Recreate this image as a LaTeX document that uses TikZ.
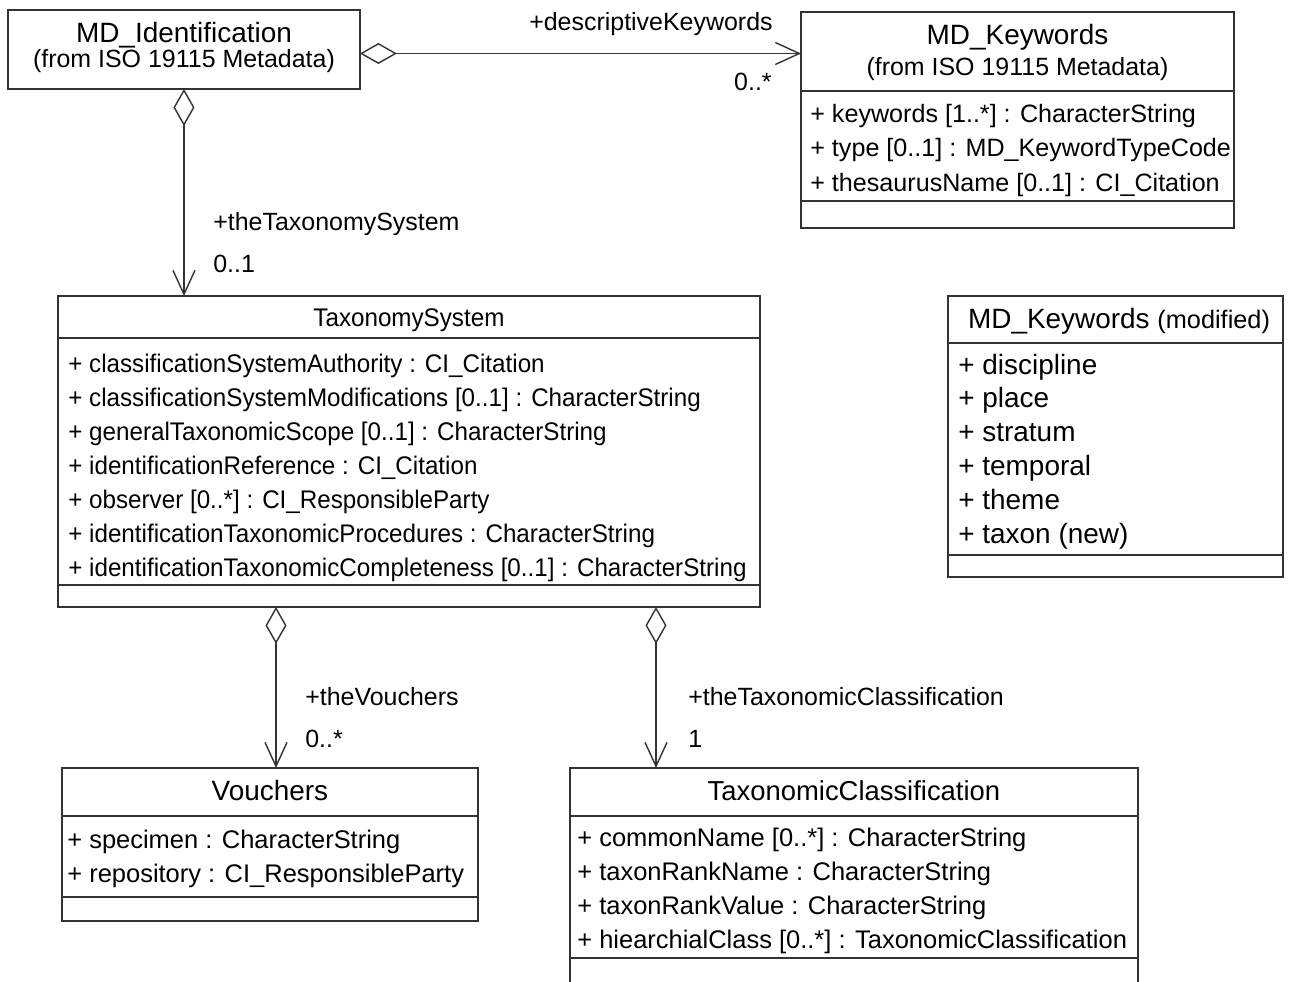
\documentclass[tikz,border=0pt]{standalone}
\usepackage{fontspec}
\setmainfont{Liberation Sans}
\newfontfamily\narrowsans[FakeStretch=0.95]{Liberation Sans}
\usetikzlibrary{arrows.meta}

\tikzset{
  umlbox/.style={draw=black!80, line width=0.9pt, anchor=north west, inner sep=0pt, outer sep=0pt},
  part/.style={draw=black!80, line width=0.9pt},
  ctitle/.style={font=\fontsize{15.9}{19}\selectfont, anchor=base, inner sep=0pt},
  csub/.style={font=\fontsize{14.2}{17}\selectfont, anchor=base, inner sep=0pt},
  attr/.style={font=\fontsize{14.5}{17}\selectfont, anchor=base west, inner sep=0pt},
  role/.style={font=\fontsize{14.2}{17}\selectfont, inner sep=0pt},
  agg/.style={draw=black!80, line width=0.8pt,
    arrows={Diamond[open,length=0.74cm,width=0.42cm]-Straight Barb[length=0.48cm,width=0.44cm]}}
}

\begin{document}
\begin{tikzpicture}[x=0.02cm, y=-0.02cm]
    \clip (0,0) rectangle (1302,981);
    % MD_Identification
    \node[umlbox, minimum width=7.04cm, minimum height=1.58cm] (mdid) at (8,10) {};
    \node[ctitle] (mdid-name) at (mdid.north |- 0,42) {MD\_Identification};
    \node[csub] (mdid-from) at (mdid.north |- 0,67) {(from ISO 19115 Metadata)};
    % MD_Keywords
    \node[umlbox, minimum width=8.66cm, minimum height=4.32cm] (mdkw) at (801,12) {};
    \node[ctitle] (mdkw-name) at (mdkw.north |- 0,44) {MD\_Keywords};
    \node[csub] (mdkw-from) at (mdkw.north |- 0,75) {(from ISO 19115 Metadata)};
    \draw[part] (mdkw.west |- 0,91) -- (mdkw.east |- 0,91);
    \draw[part] (mdkw.west |- 0,201) -- (mdkw.east |- 0,201);
    \foreach \t [count=\i from 0] in {
        {+ keywords [1..*] : CharacterString},
        {+ type [0..1] : MD\_KeywordTypeCode},
        {+ thesaurusName [0..1] : CI\_Citation}}
        \node[attr, font=\fontsize{14.3}{17}\selectfont] (mdkw-a\i) at (810,122+34.5*\i) {\t};
    % TaxonomySystem
    \node[umlbox, minimum width=14.04cm, minimum height=6.22cm] (tsys) at (58,296) {};
    \node[ctitle, font=\narrowsans\fontsize{14.5}{17}\selectfont] (tsys-name) at (tsys.north |- 0,326) {TaxonomySystem};
    \draw[part] (tsys.west |- 0,338) -- (tsys.east |- 0,338);
    \draw[part] (tsys.west |- 0,585) -- (tsys.east |- 0,585);
    \foreach \t [count=\i from 0] in {
        {+ classificationSystemAuthority : CI\_Citation},
        {+ classificationSystemModifications [0..1] : CharacterString},
        {+ generalTaxonomicScope [0..1] : CharacterString},
        {+ identificationReference : CI\_Citation},
        {+ observer [0..*] : CI\_ResponsibleParty},
        {+ identificationTaxonomicProcedures : CharacterString},
        {+ identificationTaxonomicCompleteness [0..1] : CharacterString}}
        \node[attr, font=\narrowsans\fontsize{14.5}{17}\selectfont] (tsys-a\i) at (68,372+34*\i) {\t};
    % MD_Keywords (modified)
    \node[umlbox, minimum width=6.70cm, minimum height=5.62cm] (mdmod) at (948,296) {};
    \node[ctitle] (mdmod-name) at (1119,328) {MD\_Keywords {\fontsize{14.4}{17}\selectfont (modified)}};
    \draw[part] (mdmod.west |- 0,343) -- (mdmod.east |- 0,343);
    \draw[part] (mdmod.west |- 0,555) -- (mdmod.east |- 0,555);
    \foreach \t [count=\i from 0] in {discipline, place, stratum, temporal, theme, taxon (new)}
        \node[attr, font=\fontsize{15.9}{19}\selectfont] (mdmod-a\i) at (958,374+33.8*\i) {+ \t};
    % Vouchers
    \node[umlbox, minimum width=8.32cm, minimum height=3.06cm] (vouch) at (62,768) {};
    \node[ctitle] (vouch-name) at (vouch.north |- 0,800) {Vouchers};
    \draw[part] (vouch.west |- 0,816) -- (vouch.east |- 0,816);
    \draw[part] (vouch.west |- 0,897) -- (vouch.east |- 0,897);
    \node[attr] (vouch-a0) at (67,848) {+ specimen : CharacterString};
    \node[attr] (vouch-a1) at (67,882) {+ repository : CI\_ResponsibleParty};
    % TaxonomicClassification
    \node[umlbox, minimum width=11.36cm, minimum height=4.64cm] (taxc) at (570,768) {};
    \node[ctitle, font=\fontsize{15.6}{18}\selectfont] (taxc-name) at (taxc.north |- 0,800) {TaxonomicClassification};
    \draw[part] (taxc.west |- 0,816) -- (taxc.east |- 0,816);
    \draw[part] (taxc.west |- 0,958) -- (taxc.east |- 0,958);
    \foreach \t [count=\i from 0] in {
        {+ commonName [0..*] : CharacterString},
        {+ taxonRankName : CharacterString},
        {+ taxonRankValue : CharacterString},
        {+ hiearchialClass [0..*] : TaxonomicClassification}}
        \node[attr] (taxc-a\i) at (577,846+34*\i) {\t};
    % aggregations
    \draw[agg] ([yshift=-0.08cm]mdid.east) -- ([yshift=-0.08cm]mdid.east -| mdkw.west);
    \draw[agg] (mdid.south) -- (mdid.south |- tsys.north);
    \draw[agg] (tsys.south -| 276,0) -- (vouch.north -| 276,0);
    \draw[agg] (tsys.south -| 656,0) -- (taxc.north -| 656,0);
    % role names and multiplicities
    \node[role, anchor=base east] (kw-role) at (773,30) {+descriptiveKeywords};
    \node[role, anchor=base east] (kw-mult) at (772,90) {0..*};
    \node[role, anchor=base west] (ts-role) at (213,230) {+theTaxonomySystem};
    \node[role, anchor=base west] (ts-mult) at (213,272) {0..1};
    \node[role, anchor=base west] (vo-role) at (305,705) {+theVouchers};
    \node[role, anchor=base west] (vo-mult) at (305,747) {0..*};
    \node[role, anchor=base west] (tc-role) at (688,705) {+theTaxonomicClassification};
    \node[role, anchor=base west] (tc-mult) at (688,747) {1};
\end{tikzpicture}
\end{document}
